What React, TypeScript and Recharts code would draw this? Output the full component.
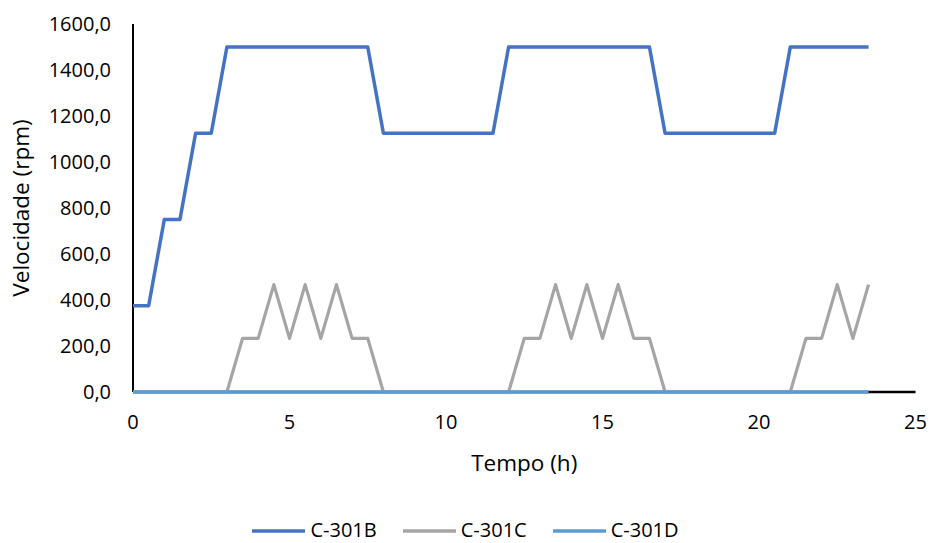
import { LineChart, Line, XAxis, YAxis, Legend, Label } from "recharts";

// tempo em horas (passo de 30 min)
const hours = [
  0, 0.5, 1, 1.5, 2, 2.5, 3, 3.5, 4, 4.5, 5, 5.5, 6, 6.5, 7, 7.5,
  8, 8.5, 9, 9.5, 10, 10.5, 11, 11.5, 12, 12.5, 13, 13.5, 14, 14.5, 15, 15.5,
  16, 16.5, 17, 17.5, 18, 18.5, 19, 19.5, 20, 20.5, 21, 21.5, 22, 22.5, 23, 23.5,
];

const c301b = [
  375, 375, 750, 750, 1125, 1125, 1500, 1500, 1500, 1500, 1500, 1500, 1500, 1500, 1500, 1500,
  1125, 1125, 1125, 1125, 1125, 1125, 1125, 1125, 1500, 1500, 1500, 1500, 1500, 1500, 1500, 1500,
  1500, 1500, 1125, 1125, 1125, 1125, 1125, 1125, 1125, 1125, 1500, 1500, 1500, 1500, 1500, 1500,
];

const c301c = [
  0, 0, 0, 0, 0, 0, 0, 233.3, 233.3, 466.7, 233.3, 466.7, 233.3, 466.7, 233.3, 233.3,
  0, 0, 0, 0, 0, 0, 0, 0, 0, 233.3, 233.3, 466.7, 233.3, 466.7, 233.3, 466.7,
  233.3, 233.3, 0, 0, 0, 0, 0, 0, 0, 0, 0, 233.3, 233.3, 466.7, 233.3, 466.7,
];

const c301d = [
  0, 0, 0, 0, 0, 0, 0, 0, 0, 0, 0, 0, 0, 0, 0, 0,
  0, 0, 0, 0, 0, 0, 0, 0, 0, 0, 0, 0, 0, 0, 0, 0,
  0, 0, 0, 0, 0, 0, 0, 0, 0, 0, 0, 0, 0, 0, 0, 0,
];

const xTicks = [0, 5, 10, 15, 20, 25];
const yTicks = [0, 200, 400, 600, 800, 1000, 1200, 1400, 1600];

const series = [
  { key: "b", name: "C-301B", color: "#4472C4" },
  { key: "c", name: "C-301C", color: "#A5A5A5" },
  { key: "d", name: "C-301D", color: "#5B9BD5" },
];

const rows = hours.map((h, i) => ({ h, b: c301b[i], c: c301c[i], d: c301d[i] }));

const FONT = "'Open Sans', sans-serif";
const LEGEND_H = 44;

const fmt = (v: number) => v.toFixed(1).replace(".", ",");

function SeriesKey() {
  return (
    <div
      style={{
        height: LEGEND_H,
        boxSizing: "border-box",
        display: "flex",
        justifyContent: "center",
        alignItems: "flex-end",
        gap: 26,
        fontFamily: FONT,
        fontSize: 20,
        color: "#000",
      }}
    >
      {series.map((s) => (
        <div key={s.key} style={{ display: "flex", alignItems: "center" }}>
          <svg width={53} height={6} style={{ marginRight: 5, marginTop: 2 }}>
            <line x1={0} y1={3} x2={53} y2={3} stroke={s.color} strokeWidth={3.5} />
          </svg>
          <span style={{ lineHeight: "normal" }}>{s.name}</span>
        </div>
      ))}
    </div>
  );
}

export default function App() {
  return (
    <div>
      <style>{"body{margin:0}"}</style>
      <LineChart
        width={931}
        height={543}
        data={rows}
        margin={{ top: 24, right: 15.5, left: 0, bottom: 0 }}
      >
        <XAxis
          dataKey="h"
          type="number"
          domain={[0, 25]}
          ticks={xTicks}
          tickLine={false}
          tickSize={0}
          tickMargin={23}
          height={543 - 392 - LEGEND_H}
          axisLine={{ stroke: "#000", strokeWidth: 2.5 }}
          tick={{ fill: "#000", fontSize: 20, fontFamily: FONT }}
        >
          <Label
            value="Tempo (h)"
            position="insideBottom"
            offset={28}
            style={{ fill: "#000", fontSize: 22.5, fontFamily: FONT }}
          />
        </XAxis>
        <YAxis
          type="number"
          domain={[0, 1600]}
          ticks={yTicks}
          tickFormatter={fmt}
          tickLine={false}
          tickSize={0}
          tickMargin={22}
          width={133}
          axisLine={{ stroke: "#000", strokeWidth: 2 }}
          tick={{ fill: "#000", fontSize: 20, fontFamily: FONT }}
        >
          <Label
            value="Velocidade (rpm)"
            position="insideLeft"
            angle={-90}
            offset={21}
            style={{ fill: "#000", fontSize: 22.5, fontFamily: FONT, textAnchor: "middle" }}
          />
        </YAxis>
        <Legend
          verticalAlign="bottom"
          content={() => <SeriesKey />}
          wrapperStyle={{ left: 0, width: 931 }}
        />
        {series.map((s) => (
          <Line
            key={s.key}
            type="linear"
            dataKey={s.key}
            name={s.name}
            stroke={s.color}
            strokeWidth={s.key === "c" ? 3.2 : 3.5}
            strokeLinejoin="round"
            dot={false}
            activeDot={false}
            zIndex={600}
            isAnimationActive={false}
          />
        ))}
      </LineChart>
    </div>
  );
}
